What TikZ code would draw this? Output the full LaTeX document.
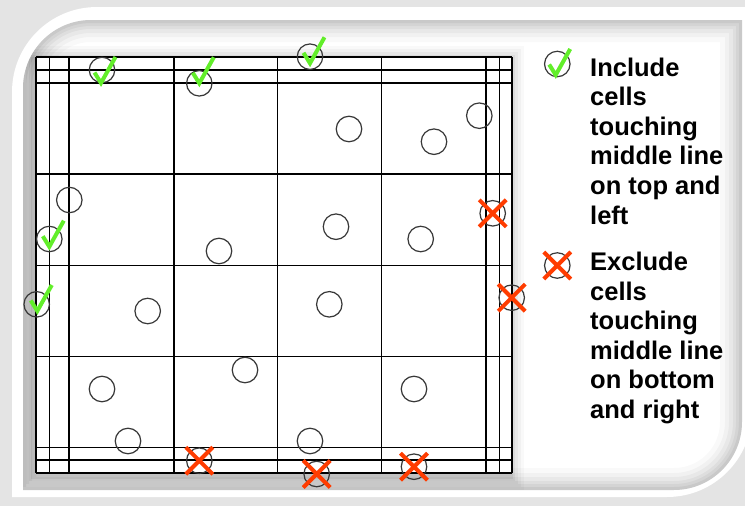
\documentclass[tikz,border=0pt]{standalone}
\usepackage{fontspec}
\setmainfont{Liberation Sans}
\definecolor{okgreen}{RGB}{98,238,42}
\definecolor{nored}{RGB}{255,60,0}
\definecolor{bggray}{RGB}{228,228,228}
\tikzset{
  gridline/.style={line width=1.2pt,black},
  ring/.style={circle,draw=black!78,line width=1.2pt,minimum size=25.5pt,inner sep=0pt},
  okmark/.style={line width=4pt,draw=okgreen},
  nomark/.style={line width=4pt,draw=nored},
  legtext/.style={anchor=base west,inner sep=0pt,font=\bfseries\fontsize{25.5}{30}\selectfont},
  chk/.pic={\draw[okmark] (-6.5,-10.5) -- (0,0) -- (14.5,-26);},
  crs/.pic={\draw[nomark] (-13.5,-13.5) -- (13.5,13.5) (-13.5,13.5) -- (13.5,-13.5);}
}
\newcommand\cardpath{(12,497) -- (12,92) .. controls (12,45) and (50,7) .. (97,7) -- (752,7) -- (752,412) .. controls (752,459) and (714,497) .. (667,497) -- cycle}
\newcommand\panelpath{(23,490) -- (23,88) .. controls (23,50.5) and (53.5,20) .. (91,20) -- (742,20) -- (742,422) .. controls (742,459.5) and (711.5,490) .. (674,490) -- cycle}
\begin{document}
\begin{tikzpicture}[x=1pt,y=-1pt]
\useasboundingbox (0,0) rectangle (745,506);
% background and card
\fill[bggray] (0,0) rectangle (745,506);
\fill[white] \cardpath;
\fill[white] \panelpath;
\begin{scope}
  \clip \panelpath;
  \foreach \w/\o in {44/0.025,34/0.03,26/0.035,18/0.04,12/0.045,6/0.05}
    \draw[black,opacity=\o,line width=\w pt] \panelpath;
  % soft shadow behind the grid
  \foreach \d/\o in {14/0.025,11/0.03,8/0.04,5/0.05,3/0.06}
    \fill[black,opacity=\o] ({36-\d-2},{57-\d+3}) rectangle ({512+\d-2},{473+\d+3});
\end{scope}
% grid
\fill[white] (36,57) rectangle (512,473);
\foreach \x in {36,49.5,69,174,277.5,381.7,486,499.3,512}
  \draw[gridline] (\x,57) -- (\x,473);
\foreach \y in {57,70,83,174,265.7,356.7,447.3,460,473}
  \draw[gridline] (36,\y) -- (512,\y);
% included (check) circles
\node[ring] (k1) at (102,70) {};
\node[ring] (k2) at (199.3,83.3) {};
\node[ring] (k3) at (310,56.7) {};
\node[ring] (k4) at (49.3,239) {};
\node[ring] (k5) at (36.7,304.3) {};
% excluded (cross) circles
\node[ring] (x1) at (199.3,460.7) {};
\node[ring] (x2) at (316.7,474) {};
\node[ring] (x3) at (414,466.7) {};
\node[ring] (x4) at (492.7,213.3) {};
\node[ring] (x5) at (511.7,297.7) {};
% plain circles
\node[ring] (p1) at (349,129) {};
\node[ring] (p2) at (479.3,115.7) {};
\node[ring] (p3) at (434,141.7) {};
\node[ring] (p4) at (69.3,200) {};
\node[ring] (p5) at (336,226.7) {};
\node[ring] (p6) at (219,251) {};
\node[ring] (p7) at (420.7,239) {};
\node[ring] (p8) at (147.7,311) {};
\node[ring] (p9) at (329.3,304.3) {};
\node[ring] (p10) at (245,370) {};
\node[ring] (p11) at (102,389) {};
\node[ring] (p12) at (128,441) {};
\node[ring] (p13) at (310,441) {};
\node[ring] (p14) at (414,389) {};
% marks
\pic at ([shift={(-1,13)}]k1) {chk};
\pic at (k2) {chk};
\pic at ([shift={(0,6.6)}]k3) {chk};
\pic at ([shift={(0,7.7)}]k4) {chk};
\pic at ([shift={(0.6,6.7)}]k5) {chk};
\pic at (x1) {crs};
\pic at (x2) {crs};
\pic at (x3) {crs};
\pic at (x4) {crs};
\pic at (x5) {crs};
% legend
\node[ring] (lk) at (557.3,64) {};
\pic at ([shift={(-1.6,11)}]lk) {chk};
\node[ring] (lx) at (557.3,265.5) {};
\pic at (lx) {crs};
\node[legtext] (i1) at (590,76) {Include};
\node[legtext] (i2) at (590,105.6) {cells};
\node[legtext] (i3) at (590,135.2) {touching};
\node[legtext] (i4) at (590,164.8) {middle line};
\node[legtext] (i5) at (590,194.4) {on top and};
\node[legtext] (i6) at (590,224) {left};
\node[legtext] (e1) at (590,270.5) {Exclude};
\node[legtext] (e2) at (590,300) {cells};
\node[legtext] (e3) at (590,329.5) {touching};
\node[legtext] (e4) at (590,359) {middle line};
\node[legtext] (e5) at (590,388.5) {on bottom};
\node[legtext] (e6) at (590,418) {and right};
\end{tikzpicture}
\end{document}
